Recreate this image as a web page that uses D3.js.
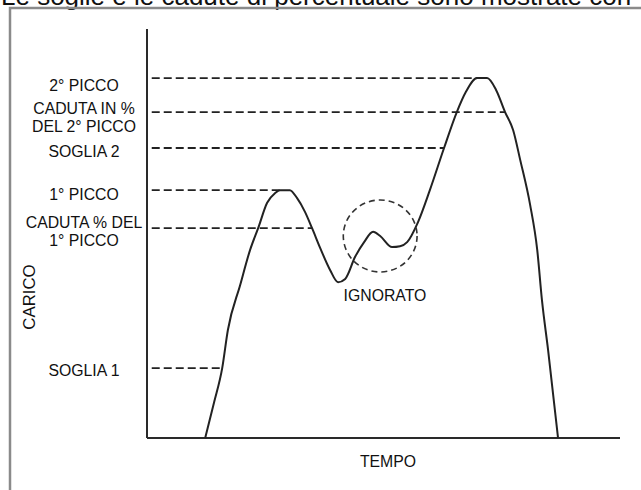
<!DOCTYPE html>
<html><head><meta charset="utf-8">
<script src="https://cdn.jsdelivr.net/npm/d3@7"></script>
<style>
html,body{margin:0;padding:0;background:#fff;}
svg{display:block;font-family:"Liberation Sans",Arial,sans-serif;}
</style></head>
<body>
<svg id="c" width="641" height="490"></svg>
<script>
// Data (time 0-100, load 0-100)
const curveTime = [12.3,14.2,15.9,17.1,19.7,21.8,23.5,25.4,27.1,28.1,30.2,31.7,33.4,34.9,36.6,38.7,40.4,41.9,44.0,45.9,47.8,49.3,51.8,53.5,55.0,57.3,59.8,62.8,65.5,67.4,69.8,71.9,73.8,75.7,77.4,78.9,81.0,82.5,83.5,84.8,86.9];
const curveLoad = [0,8.8,17.1,26.4,37.4,46.0,51.3,57.5,59.9,60.6,60.6,58.7,55.3,51.3,46.5,41.1,38.1,38.9,44.3,47.9,50.4,49.4,46.7,46.9,47.9,52.8,60.6,70.9,79.7,84.6,88.0,88.0,85.1,79.7,75.3,68.0,57.0,46.0,33.7,21.5,0];
const levelNames = ["2° PICCO","CADUTA IN %|DEL 2° PICCO","SOGLIA 2","1° PICCO","CADUTA % DEL|1° PICCO","SOGLIA 1"];
const levelLoad = [88.0,79.7,70.9,60.6,51.3,17.1];
const levelEnd = [69.8,75.7,62.8,28.1,34.9,15.9];
const ignoredCenter = [49.3,49.4];
const ignoredRadius = [7.8,8.8];
const titleText = "Le soglie e le cadute di percentuale sono mostrate con";
const xLabel = "TEMPO", yLabel = "CARICO", ignoredLabel = "IGNORATO";

const svg = d3.select("#c");
const x = d3.scaleLinear().domain([0,100]).range([147,620]);
const y = d3.scaleLinear().domain([0,100]).range([438,29]);

// title (cut off at top)
svg.append("text").attr("x",1).attr("y",5).attr("font-size",26).attr("fill","#111").text(titleText);

// frame
svg.append("rect").attr("x",10).attr("y",8).attr("width",700).attr("height",600)
  .attr("fill","none").attr("stroke","#8a8a8a").attr("stroke-width",2.5);

// axes
svg.append("line").attr("x1",x(0)).attr("x2",x(0)).attr("y1",y(100)).attr("y2",y(0))
  .attr("stroke","#2a2a2a").attr("stroke-width",2);
svg.append("line").attr("x1",x(0)).attr("x2",x(100)).attr("y1",y(0)).attr("y2",y(0))
  .attr("stroke","#2a2a2a").attr("stroke-width",2);

// level dashed lines
svg.selectAll("line.lvl").data(levelLoad).join("line").attr("class","lvl")
  .attr("x1",x(1)).attr("x2",(d,i)=>x(levelEnd[i]))
  .attr("y1",d=>y(d)).attr("y2",d=>y(d))
  .attr("stroke","#222").attr("stroke-width",1.8).attr("stroke-dasharray","8,4");

// curve
const pts = curveTime.map((t,i)=>[t,curveLoad[i]]);
svg.append("path").datum(pts)
  .attr("d",d3.line().x(d=>x(d[0])).y(d=>y(d[1])).curve(d3.curveMonotoneX))
  .attr("fill","none").attr("stroke","#222").attr("stroke-width",2);

// ignored circle
svg.append("ellipse").attr("cx",x(ignoredCenter[0])).attr("cy",y(ignoredCenter[1]))
  .attr("rx",x(ignoredRadius[0])-x(0)).attr("ry",y(0)-y(ignoredRadius[1]))
  .attr("fill","none").attr("stroke","#333").attr("stroke-width",1.6).attr("stroke-dasharray","6,4");

// level labels (baseline offsets from each level line, in px)
const fs = 15.8;
const labelOffsets = [[13],[2,20],[9],[10],[0,18],[8]];
levelNames.forEach((n,i)=>{
  const lines = n.split("|");
  const base = y(levelLoad[i]);
  lines.forEach((ln,j)=>{
    svg.append("text").attr("x",84).attr("y",base + labelOffsets[i][j]).attr("text-anchor","middle")
      .attr("font-size",fs).attr("fill","#111").text(ln);
  });
});

svg.append("text").attr("x",388).attr("y",467).attr("text-anchor","middle").attr("font-size",fs).attr("fill","#111").text(xLabel);
svg.append("text").attr("transform","translate(35,297) rotate(-90)").attr("text-anchor","middle").attr("font-size",fs+1).attr("fill","#111").text(yLabel);
svg.append("text").attr("x",385).attr("y",301).attr("text-anchor","middle").attr("font-size",fs).attr("fill","#111").text(ignoredLabel);
</script>
</body></html>
